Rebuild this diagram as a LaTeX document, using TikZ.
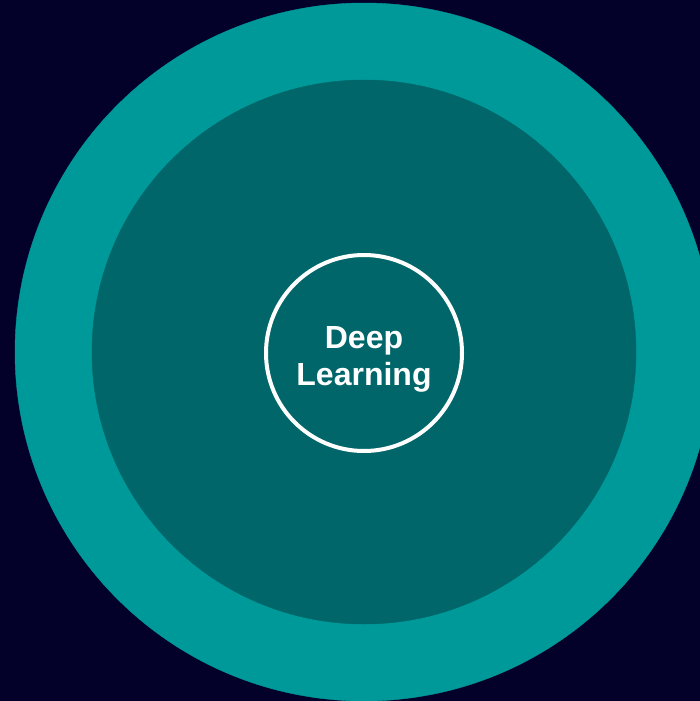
\documentclass[tikz,border=0pt]{standalone}
\usepackage{fontspec}
\setmainfont{Liberation Sans}
\usepackage{tikz}
\usepackage{color}

\definecolor{navy}{HTML}{03002A}
\definecolor{tealout}{HTML}{009999}
\definecolor{tealin}{HTML}{006669}

\begin{document}
\begin{tikzpicture}[%
      x=1pt, y=-1pt,
      ]
      \useasboundingbox (0,0) rectangle (700,701);
      \fill [color=navy] (0,0) rectangle (700,701);
      \clip (0,0) rectangle (700,701);

      \filldraw [color=tealout] (364,352) circle (349);
      \filldraw [color=tealin] (364,352) circle (272);

      \node [circle, draw=white, line width=4pt, minimum size=196pt,
             inner sep=0pt] (ring) at (364,353) {};
      \node [text=white, align=center,
             font=\bfseries\fontsize{32}{37}\selectfont]
            (dl) at (364,359) {Deep\\Learning};
      \end{tikzpicture}
\end{document}
